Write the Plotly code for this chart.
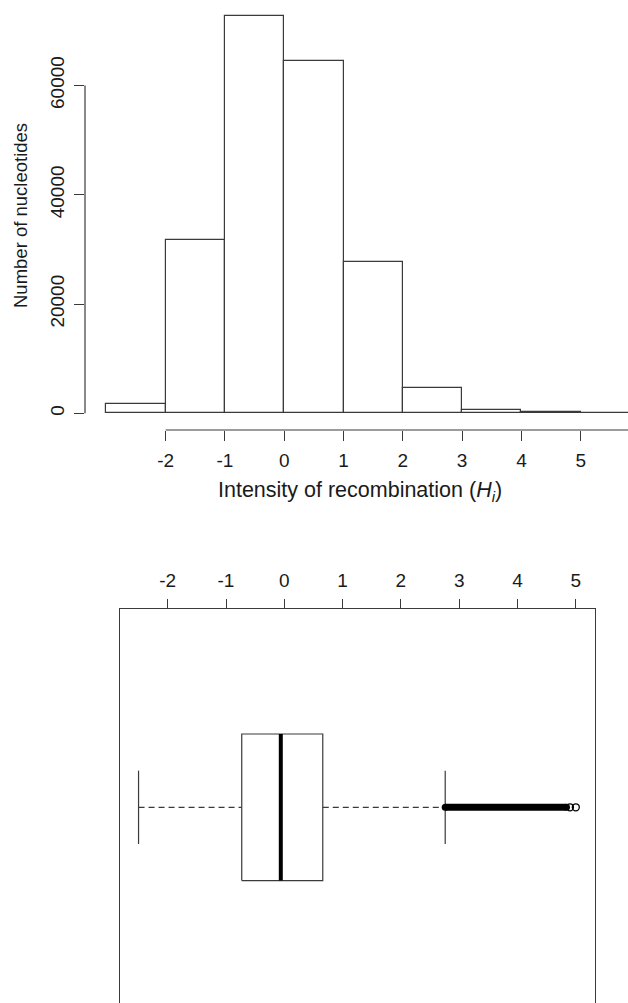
import plotly.graph_objects as go

# ---------------- data ----------------
bin_left = [-3, -2, -1, 0, 1, 2, 3, 4, 5]
bin_right = [-2, -1, 0, 1, 2, 3, 4, 5, 6]
counts = [1700, 31650, 72750, 64450, 27600, 4700, 600, 300, 50]

hist_xticks = [-2, -1, 0, 1, 2, 3, 4, 5]
hist_yticks = [0, 20000, 40000, 60000]

whisker_low = -2.50
q1 = -0.73
median = -0.06
q3 = 0.66
whisker_high = 2.76
outlier_band = [2.76, 4.84]      # dense run of overlapping outliers
outliers_sparse = [4.90, 5.00]    # separately visible outliers
box_xticks = [-2, -1, 0, 1, 2, 3, 4, 5]

# ---------------- layout constants ----------------
W, H = 628, 1003
FONT = "Liberation Sans, Arial, Helvetica, sans-serif"
LC = "#3a3a3a"
TXT = "#1a1a1a"

centers = [(a + b) / 2 for a, b in zip(bin_left, bin_right)]
widths = [b - a for a, b in zip(bin_left, bin_right)]

fig = go.Figure()

fig.add_trace(go.Bar(
    x=centers, y=counts, width=widths,
    marker=dict(color="white", line=dict(color=LC, width=1.2)),
    xaxis="x", yaxis="y", showlegend=False, hoverinfo="skip",
))

# box plot, drawn R-style
yc = 1.0
bh = 0.4
sh = 0.2
fig.add_trace(go.Scatter(
    x=[q1, q3, q3, q1, q1], y=[yc - bh, yc - bh, yc + bh, yc + bh, yc - bh],
    mode="lines", line=dict(color=LC, width=1.2),
    xaxis="x2", yaxis="y2", showlegend=False, hoverinfo="skip"))
fig.add_trace(go.Scatter(
    x=[median, median], y=[yc - bh, yc + bh], mode="lines",
    line=dict(color="black", width=4),
    xaxis="x2", yaxis="y2", showlegend=False, hoverinfo="skip"))
for a, b in [(whisker_low, q1), (q3, whisker_high)]:
    fig.add_trace(go.Scatter(
        x=[a, b], y=[yc, yc], mode="lines",
        line=dict(color=LC, width=1.2, dash="6px,4px"),
        xaxis="x2", yaxis="y2", showlegend=False, hoverinfo="skip"))
for w in [whisker_low, whisker_high]:
    fig.add_trace(go.Scatter(
        x=[w, w], y=[yc - sh, yc + sh], mode="lines",
        line=dict(color=LC, width=1.2),
        xaxis="x2", yaxis="y2", showlegend=False, hoverinfo="skip"))
fig.add_trace(go.Scatter(
    x=outlier_band, y=[yc, yc], mode="lines+markers",
    line=dict(color="black", width=7),
    marker=dict(symbol="circle", size=7, color="black"),
    xaxis="x2", yaxis="y2", showlegend=False, hoverinfo="skip"))
fig.add_trace(go.Scatter(
    x=outliers_sparse, y=[yc] * len(outliers_sparse), mode="markers",
    marker=dict(symbol="circle-open", size=7, color="black", line=dict(width=1.3)),
    xaxis="x2", yaxis="y2", showlegend=False, hoverinfo="skip"))

# ---- geometry (pixels) ----
h_left, h_bottom = 85, 430
h_ppu = 59.3
h_x0 = -3.36
h_x1 = h_x0 + (W - h_left) / h_ppu
y_per_px = 20000 / 109.3
h_y0 = -(h_bottom - 413.3) * y_per_px
h_y1 = h_y0 + h_bottom * y_per_px

b_left, b_right, b_top = 120, 595, 609
b_ppu = 58.3
b_zero = 284.3
b_x0 = (b_left - b_zero) / b_ppu
b_x1 = (b_right - b_zero) / b_ppu
b_unit = 183.3
b_center = 807.3
b_y1 = yc + (b_center - b_top) / b_unit
b_y0 = yc - (H - b_center) / b_unit

tickfont = dict(family=FONT, size=19, color=TXT)

fig.update_layout(
    width=W, height=H,
    margin=dict(l=0, r=0, t=0, b=0),
    paper_bgcolor="white", plot_bgcolor="white",
    showlegend=False,
    bargap=0,
    xaxis=dict(domain=[h_left / W, 1], range=[h_x0, h_x1], anchor="y",
               tickvals=hist_xticks, ticktext=[str(v) for v in hist_xticks],
               ticks="outside", ticklen=10, tickwidth=1.2, tickcolor=LC,
               showline=False, showgrid=False, zeroline=False,
               tickfont=tickfont, ticklabelstandoff=3),
    yaxis=dict(domain=[1 - h_bottom / H, 1], range=[h_y0, h_y1], anchor="x",
               tickvals=hist_yticks, ticktext=[str(v) for v in hist_yticks],
               ticks="outside", ticklen=10, tickwidth=1.2, tickcolor=LC,
               tickangle=-90,
               showline=False, showgrid=False, zeroline=False,
               tickfont=tickfont, ticklabelstandoff=2),
    xaxis2=dict(domain=[b_left / W, b_right / W], range=[b_x0, b_x1], anchor="y2",
                side="top",
                tickvals=box_xticks, ticktext=[str(v) for v in box_xticks],
                ticks="outside", ticklen=9, tickwidth=1.2, tickcolor=LC,
                showline=True, linecolor=LC, linewidth=1.2, mirror=False,
                showgrid=False, zeroline=False,
                tickfont=tickfont, ticklabelstandoff=4),
    yaxis2=dict(domain=[0, 1 - b_top / H], range=[b_y0, b_y1], anchor="x2",
                showticklabels=False, ticks="",
                showline=True, linecolor=LC, linewidth=1.2, mirror=True,
                showgrid=False, zeroline=False),
    shapes=[
        dict(type="line", xref="x", yref="y domain", x0=-2, x1=6, y0=0, y1=0,
             line=dict(color=LC, width=1.2)),
        dict(type="line", xref="x domain", yref="y", x0=0, x1=0,
             y0=hist_yticks[0], y1=hist_yticks[-1],
             line=dict(color=LC, width=1.2)),
    ],
    annotations=[
        dict(text="Intensity of recombination (<i>H</i><sub><i>i</i></sub>)",
             xref="paper", yref="paper", x=360 / W, y=1 - 492 / H,
             xanchor="center", yanchor="middle", showarrow=False,
             font=dict(family=FONT, size=21.5, color=TXT)),
        dict(text="Number of nucleotides",
             xref="paper", yref="paper", x=20 / W, y=1 - 216 / H,
             xanchor="center", yanchor="middle", showarrow=False, textangle=-90,
             font=dict(family=FONT, size=18.5, color=TXT)),
    ],
)

fig.write_html("out.html")
